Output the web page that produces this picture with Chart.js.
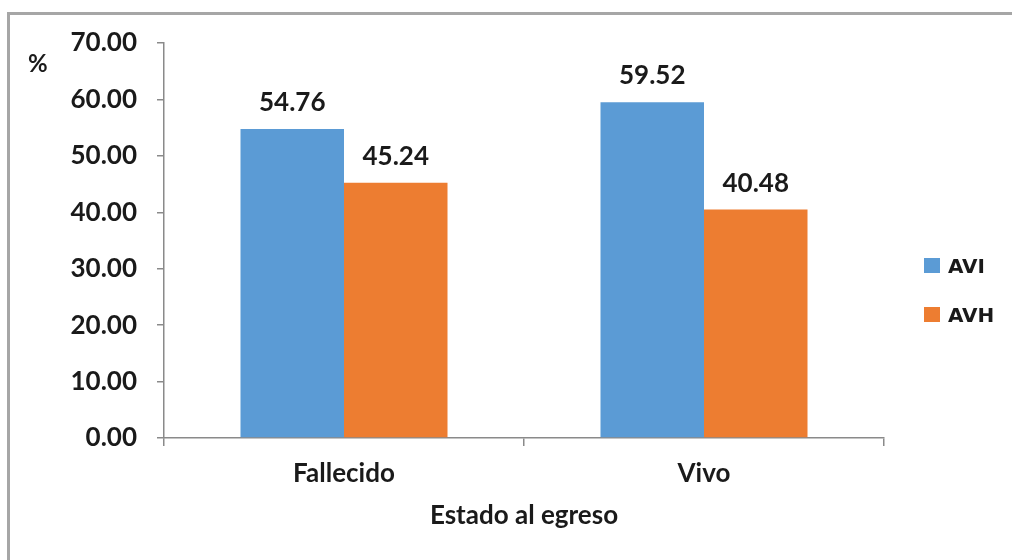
<!DOCTYPE html>
<html><head><meta charset="utf-8">
<script src="https://cdn.jsdelivr.net/npm/chart.js@4.4.0/dist/chart.umd.min.js"></script>
<style>html,body{margin:0;padding:0;background:#fff;} #wrap{width:1012px;height:560px;}</style>
</head><body><div id="wrap"><canvas id="c" width="1012" height="560"></canvas></div>
<script>
const categories = ['Fallecido', 'Vivo'];
const seriesNames = ['AVI', 'AVH'];
const aviValues = [54.76, 59.52];
const avhValues = [45.24, 40.48];
const yTickValues = [0, 10, 20, 30, 40, 50, 60, 70];
const seriesColors = ['#5B9BD5', '#ED7D31'];
const yUnitLabel = '%';
const xTitle = 'Estado al egreso';

const TEXT = '#1a1a1a';
const AXIS = '#8a8a8a';
const FONT = 'Lato';

const framePlugin = {
  id: 'frame',
  beforeDraw(chart) {
    const ctx = chart.ctx;
    ctx.save();
    ctx.fillStyle = '#ffffff';
    ctx.fillRect(0, 0, chart.width, chart.height);
    ctx.strokeStyle = '#a6a6a6';
    ctx.lineWidth = 3;
    ctx.strokeRect(8.5, 13.5, chart.width + 20, chart.height + 20);
    ctx.restore();
  },
  afterDraw(chart) {
    const ctx = chart.ctx;
    ctx.save();
    ctx.fillStyle = TEXT;
    ctx.font = 'bold 24px ' + FONT;
    ctx.textAlign = 'left';
    ctx.textBaseline = 'alphabetic';
    ctx.fillText(yUnitLabel, 28, 72);
    // legend
    const area = chart.chartArea;
    ctx.font = 'bold 20px "DejaVu Sans"';
    ctx.textBaseline = 'alphabetic';
    chart.data.datasets.forEach((ds, i) => {
      const top = 258 + i * 49;
      ctx.fillStyle = ds.backgroundColor;
      ctx.fillRect(area.right + 40, top, 16, 15);
      ctx.fillStyle = TEXT;
      ctx.fillText(ds.label, area.right + 64, top + 15);
    });
    ctx.restore();
  }
};

const valueLabelPlugin = {
  id: 'valueLabels',
  afterDatasetsDraw(chart) {
    const ctx = chart.ctx;
    ctx.save();
    ctx.fillStyle = TEXT;
    ctx.font = 'bold 26px ' + FONT;
    ctx.textAlign = 'center';
    ctx.textBaseline = 'alphabetic';
    chart.data.datasets.forEach((ds, i) => {
      const meta = chart.getDatasetMeta(i);
      meta.data.forEach((bar, j) => {
        ctx.fillText(ds.data[j].toFixed(2), bar.x, bar.y - 18);
      });
    });
    ctx.restore();
  }
};

new Chart(document.getElementById('c'), {
  type: 'bar',
  data: {
    labels: categories,
    datasets: [
      { label: seriesNames[0], data: aviValues, backgroundColor: seriesColors[0], borderWidth: 0 },
      { label: seriesNames[1], data: avhValues, backgroundColor: seriesColors[1], borderWidth: 0 }
    ]
  },
  options: {
    responsive: false,
    animation: false,
    devicePixelRatio: 1,
    categoryPercentage: 0.575,
    barPercentage: 1.0,
    layout: { padding: { left: 0, right: 128, top: 43, bottom: 0 } },
    plugins: {
      legend: { display: false },
      tooltip: { enabled: false },
      title: { display: false }
    },
    scales: {
      x: {
        offset: true,
        grid: { display: true, drawOnChartArea: false, drawTicks: true, tickLength: 8, color: AXIS, lineWidth: 1.5 },
        border: { display: true, color: AXIS, width: 1.5 },
        ticks: { color: TEXT, font: { family: FONT, size: 26, weight: 'bold' }, padding: 12 },
        title: { display: true, text: xTitle, color: TEXT, font: { family: FONT, size: 26, weight: 'bold' }, padding: { top: 0, bottom: 29 } },
        afterFit(scale) { scale.height = 122; }
      },
      y: {
        min: 0,
        max: 70,
        afterBuildTicks(scale) { scale.ticks = yTickValues.map(v => ({ value: v })); },
        grid: { display: true, drawOnChartArea: false, drawTicks: true, tickLength: 7, color: AXIS, lineWidth: 1.5 },
        border: { display: true, color: AXIS, width: 1.5 },
        ticks: { color: TEXT, font: { family: FONT, size: 26, weight: 'bold' }, padding: 20, callback: v => Number(v).toFixed(2) },
        afterFit(scale) { scale.width = 164; }
      }
    }
  },
  plugins: [framePlugin, valueLabelPlugin]
});
</script>
</body></html>
